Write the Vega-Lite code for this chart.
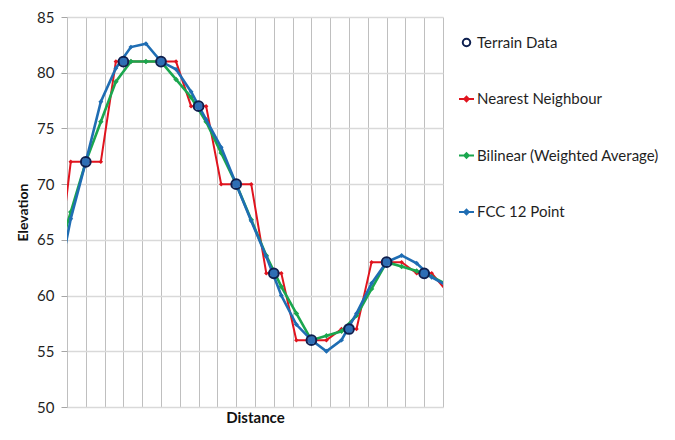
{
  "$schema": "https://vega.github.io/schema/vega-lite/v6.json",
  "width": 376,
  "height": 390,
  "autosize": {"type": "none"},
  "padding": {"left": 67, "top": 17, "right": 232, "bottom": 33},
  "background": "white",
  "config": {
    "font": "Lato",
    "view": {"stroke": null},
    "axis": {"labelFont": "Lato", "titleFont": "Lato", "labelColor": "#1f1f1f", "titleColor": "#111111"}
  },
  "datasets": {
    "interp": [
      {"series": "Nearest Neighbour", "d": -0.6, "e": 60.8},
      {"series": "Nearest Neighbour", "d": 0.2, "e": 72},
      {"series": "Nearest Neighbour", "d": 1.0, "e": 72},
      {"series": "Nearest Neighbour", "d": 1.8, "e": 72},
      {"series": "Nearest Neighbour", "d": 2.6, "e": 81},
      {"series": "Nearest Neighbour", "d": 3.4, "e": 81},
      {"series": "Nearest Neighbour", "d": 4.2, "e": 81},
      {"series": "Nearest Neighbour", "d": 5.0, "e": 81},
      {"series": "Nearest Neighbour", "d": 5.8, "e": 81},
      {"series": "Nearest Neighbour", "d": 6.6, "e": 77},
      {"series": "Nearest Neighbour", "d": 7.4, "e": 77},
      {"series": "Nearest Neighbour", "d": 8.2, "e": 70},
      {"series": "Nearest Neighbour", "d": 9.0, "e": 70},
      {"series": "Nearest Neighbour", "d": 9.8, "e": 70},
      {"series": "Nearest Neighbour", "d": 10.6, "e": 62},
      {"series": "Nearest Neighbour", "d": 11.4, "e": 62},
      {"series": "Nearest Neighbour", "d": 12.2, "e": 56},
      {"series": "Nearest Neighbour", "d": 13.0, "e": 56},
      {"series": "Nearest Neighbour", "d": 13.8, "e": 56},
      {"series": "Nearest Neighbour", "d": 14.6, "e": 57},
      {"series": "Nearest Neighbour", "d": 15.4, "e": 57},
      {"series": "Nearest Neighbour", "d": 16.2, "e": 63},
      {"series": "Nearest Neighbour", "d": 17.0, "e": 63},
      {"series": "Nearest Neighbour", "d": 17.8, "e": 63},
      {"series": "Nearest Neighbour", "d": 18.6, "e": 62},
      {"series": "Nearest Neighbour", "d": 19.4, "e": 62},
      {"series": "Nearest Neighbour", "d": 20.2, "e": 60.4},
      {"series": "Bilinear (Weighted Average)", "d": -0.6, "e": 63.0},
      {"series": "Bilinear (Weighted Average)", "d": 0.2, "e": 67.5},
      {"series": "Bilinear (Weighted Average)", "d": 1.0, "e": 72},
      {"series": "Bilinear (Weighted Average)", "d": 1.8, "e": 75.6},
      {"series": "Bilinear (Weighted Average)", "d": 2.6, "e": 79.2},
      {"series": "Bilinear (Weighted Average)", "d": 3.4, "e": 81},
      {"series": "Bilinear (Weighted Average)", "d": 4.2, "e": 81},
      {"series": "Bilinear (Weighted Average)", "d": 5.0, "e": 81},
      {"series": "Bilinear (Weighted Average)", "d": 5.8, "e": 79.4},
      {"series": "Bilinear (Weighted Average)", "d": 6.6, "e": 77.8},
      {"series": "Bilinear (Weighted Average)", "d": 7.4, "e": 75.6},
      {"series": "Bilinear (Weighted Average)", "d": 8.2, "e": 72.8},
      {"series": "Bilinear (Weighted Average)", "d": 9.0, "e": 70},
      {"series": "Bilinear (Weighted Average)", "d": 9.8, "e": 66.8},
      {"series": "Bilinear (Weighted Average)", "d": 10.6, "e": 63.6},
      {"series": "Bilinear (Weighted Average)", "d": 11.4, "e": 60.8},
      {"series": "Bilinear (Weighted Average)", "d": 12.2, "e": 58.4},
      {"series": "Bilinear (Weighted Average)", "d": 13.0, "e": 56},
      {"series": "Bilinear (Weighted Average)", "d": 13.8, "e": 56.4},
      {"series": "Bilinear (Weighted Average)", "d": 14.6, "e": 56.8},
      {"series": "Bilinear (Weighted Average)", "d": 15.4, "e": 58.2},
      {"series": "Bilinear (Weighted Average)", "d": 16.2, "e": 60.6},
      {"series": "Bilinear (Weighted Average)", "d": 17.0, "e": 63},
      {"series": "Bilinear (Weighted Average)", "d": 17.8, "e": 62.6},
      {"series": "Bilinear (Weighted Average)", "d": 18.6, "e": 62.2},
      {"series": "Bilinear (Weighted Average)", "d": 19.4, "e": 61.7},
      {"series": "Bilinear (Weighted Average)", "d": 20.2, "e": 61.0},
      {"series": "FCC 12 Point", "d": -0.6, "e": 60.1},
      {"series": "FCC 12 Point", "d": 0.2, "e": 66.9},
      {"series": "FCC 12 Point", "d": 1.0, "e": 72},
      {"series": "FCC 12 Point", "d": 1.8, "e": 77.4},
      {"series": "FCC 12 Point", "d": 2.6, "e": 80.4},
      {"series": "FCC 12 Point", "d": 3.4, "e": 82.3},
      {"series": "FCC 12 Point", "d": 4.2, "e": 82.6},
      {"series": "FCC 12 Point", "d": 5.0, "e": 81},
      {"series": "FCC 12 Point", "d": 5.8, "e": 80.3},
      {"series": "FCC 12 Point", "d": 6.6, "e": 78.3},
      {"series": "FCC 12 Point", "d": 7.4, "e": 75.8},
      {"series": "FCC 12 Point", "d": 8.2, "e": 73.3},
      {"series": "FCC 12 Point", "d": 9.0, "e": 70},
      {"series": "FCC 12 Point", "d": 9.8, "e": 66.7},
      {"series": "FCC 12 Point", "d": 10.6, "e": 63.5},
      {"series": "FCC 12 Point", "d": 11.4, "e": 60.0},
      {"series": "FCC 12 Point", "d": 12.2, "e": 57.4},
      {"series": "FCC 12 Point", "d": 13.0, "e": 56},
      {"series": "FCC 12 Point", "d": 13.8, "e": 55.0},
      {"series": "FCC 12 Point", "d": 14.6, "e": 56.0},
      {"series": "FCC 12 Point", "d": 15.4, "e": 58.4},
      {"series": "FCC 12 Point", "d": 16.2, "e": 61.1},
      {"series": "FCC 12 Point", "d": 17.0, "e": 63},
      {"series": "FCC 12 Point", "d": 17.8, "e": 63.6},
      {"series": "FCC 12 Point", "d": 18.6, "e": 62.9},
      {"series": "FCC 12 Point", "d": 19.4, "e": 61.65},
      {"series": "FCC 12 Point", "d": 20.2, "e": 60.9}
    ],
    "terrain": [
      {"series": "Terrain Data", "d": 1, "e": 72},
      {"series": "Terrain Data", "d": 3, "e": 81},
      {"series": "Terrain Data", "d": 5, "e": 81},
      {"series": "Terrain Data", "d": 7, "e": 77},
      {"series": "Terrain Data", "d": 9, "e": 70},
      {"series": "Terrain Data", "d": 11, "e": 62},
      {"series": "Terrain Data", "d": 13, "e": 56},
      {"series": "Terrain Data", "d": 15, "e": 57},
      {"series": "Terrain Data", "d": 17, "e": 63},
      {"series": "Terrain Data", "d": 19, "e": 62}
    ]
  },
  "encoding": {
    "x": {
      "field": "d", "type": "quantitative",
      "scale": {"domain": [0, 20], "nice": false, "zero": false},
      "axis": {
        "title": "Distance", "titleFontSize": 15, "titleFontWeight": "bold", "titlePadding": 3,
        "labels": false, "ticks": false, "domain": false,
        "values": [0,1,2,3,4,5,6,7,8,9,10,11,12,13,14,15,16,17,18,19,20],
        "grid": true, "gridColor": "#BFBFBF", "gridWidth": 1
      }
    },
    "y": {
      "field": "e", "type": "quantitative",
      "scale": {"domain": [50, 85], "nice": false, "zero": false},
      "axis": {
        "title": "Elevation", "titleFontSize": 14, "titleFontWeight": "bold", "titlePadding": 6,
        "values": [50,55,60,65,70,75,80,85], "labelFontSize": 15, "labelPadding": 7,
        "tickSize": 6, "tickColor": "#A6A6A6", "domain": false,
        "grid": true, "gridColor": "#D9D9D9", "gridWidth": 1.5
      }
    }
  },
  "layer": [
    {
      "data": {"name": "interp"},
      "transform": [{"filter": "datum.series === 'Nearest Neighbour'"}],
      "mark": {"type": "line", "color": "#E0141E", "strokeWidth": 2, "clip": true,
               "point": {"shape": "diamond", "size": 20, "filled": true, "color": "#E0141E"}},
      "encoding": {"order": {"field": "d", "type": "quantitative"}}
    },
    {
      "data": {"name": "interp"},
      "transform": [{"filter": "datum.series === 'Bilinear (Weighted Average)'"}],
      "mark": {"type": "line", "color": "#1AA64E", "strokeWidth": 2.6, "clip": true,
               "point": {"shape": "diamond", "size": 30, "filled": true, "color": "#1AA64E"}},
      "encoding": {"order": {"field": "d", "type": "quantitative"}}
    },
    {
      "data": {"name": "interp"},
      "transform": [{"filter": "datum.series === 'FCC 12 Point'"}],
      "mark": {"type": "line", "color": "#1F6DB3", "strokeWidth": 2.6, "clip": true,
               "point": {"shape": "diamond", "size": 24, "filled": true, "color": "#1F6DB3"}},
      "encoding": {"order": {"field": "d", "type": "quantitative"}}
    },
    {
      "data": {"name": "terrain"},
      "mark": {"type": "point", "shape": "circle", "filled": true, "size": 70, "fill": "#2E6EB5", "stroke": null, "opacity": 1}
    },
    {
      "data": {"name": "terrain"},
      "mark": {"type": "point", "filled": false, "strokeWidth": 2, "opacity": 1},
      "encoding": {
        "size": {"value": 380},
        "stroke": {
          "field": "series", "type": "nominal",
          "scale": {"domain": ["Terrain Data", "Nearest Neighbour", "Bilinear (Weighted Average)", "FCC 12 Point"],
                    "range": ["#0D1F4F", "#E0141E", "#1AA64E", "#1F6DB3"]},
          "legend": {
            "title": null, "orient": "none", "legendX": 391, "legendY": 17,
            "symbolSize": 225, "symbolStrokeWidth": 2, "rowPadding": 39.5,
            "labelFont": "Lato", "labelFontSize": 15, "labelColor": "#1f1f1f",
            "labelOffset": 2, "labelLimit": 300
          }
        },
        "shape": {
          "field": "series", "type": "nominal",
          "scale": {"domain": ["Terrain Data", "Nearest Neighbour", "Bilinear (Weighted Average)", "FCC 12 Point"],
                    "range": ["M0.5,0A0.5,0.5 0 1,1 -0.5,0A0.5,0.5 0 1,1 0.5,0Z",
                              "M-1,0L1,0M0,-0.3L0.3,0L0,0.3L-0.3,0Z",
                              "M-1,0L1,0M0,-0.3L0.3,0L0,0.3L-0.3,0Z",
                              "M-1,0L1,0M0,-0.3L0.3,0L0,0.3L-0.3,0Z"]},
          "legend": {
            "title": null, "orient": "none", "legendX": 391, "legendY": 17,
            "symbolSize": 225, "symbolStrokeWidth": 2, "rowPadding": 39.5,
            "labelFont": "Lato", "labelFontSize": 15, "labelColor": "#1f1f1f",
            "labelOffset": 2, "labelLimit": 300
          }
        }
      }
    }
  ]
}
